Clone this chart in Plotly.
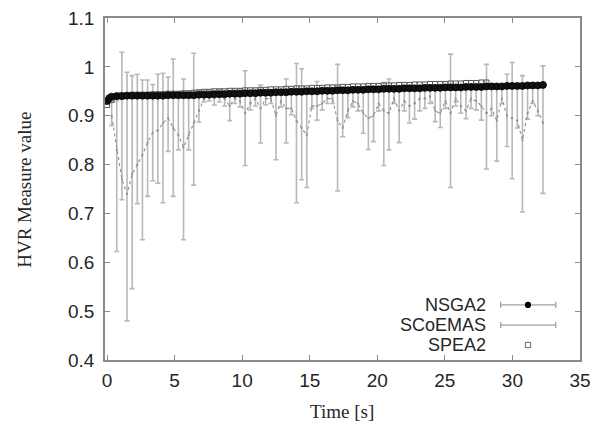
import plotly.graph_objects as go

# ---- data ----
TIME = [0.34, 0.72, 1.10, 1.48, 1.86, 2.24, 2.62, 3.00, 3.38, 3.76, 4.14, 4.52, 4.90, 5.28, 5.66,
        6.04, 6.42, 6.80, 7.18, 7.56, 7.94, 8.32, 8.70, 9.08, 9.46, 9.84, 10.22, 10.60, 10.98,
        11.36, 11.74, 12.12, 12.50, 12.88, 13.26, 13.64, 14.02, 14.40, 14.78, 15.16, 15.54,
        15.92, 16.30, 16.68, 17.06, 17.44, 17.82, 18.20, 18.58, 18.96, 19.34, 19.72, 20.10,
        20.48, 20.86, 21.24, 21.62, 22.00, 22.38, 22.76, 23.14, 23.52, 23.90, 24.28, 24.66,
        25.04, 25.42, 25.80, 26.18, 26.56, 26.94, 27.32, 27.70, 28.08, 28.46, 28.84, 29.22,
        29.60, 29.98, 30.36, 30.74, 31.12, 31.50, 31.88, 32.26]

SCOEMAS_MEAN = [0.900, 0.830, 0.770, 0.740, 0.780, 0.800, 0.820, 0.845, 0.865, 0.870, 0.885, 0.895,
                0.875, 0.860, 0.835, 0.860, 0.885, 0.910, 0.935, 0.940, 0.935, 0.940, 0.935, 0.920,
                0.935, 0.930, 0.905, 0.925, 0.935, 0.915, 0.935, 0.935, 0.900, 0.930, 0.915, 0.915,
                0.890, 0.875, 0.860, 0.920, 0.920, 0.925, 0.935, 0.935, 0.890, 0.875, 0.910, 0.930,
                0.925, 0.905, 0.895, 0.900, 0.925, 0.910, 0.905, 0.935, 0.910, 0.930, 0.920, 0.925,
                0.935, 0.935, 0.940, 0.910, 0.905, 0.930, 0.905, 0.935, 0.920, 0.910, 0.935, 0.930,
                0.920, 0.905, 0.915, 0.890, 0.935, 0.900, 0.895, 0.890, 0.850, 0.905, 0.930, 0.910,
                0.885]
SCOEMAS_HIGH = [0.930, 0.930, 1.030, 0.989, 0.982, 0.985, 0.973, 0.973, 0.964, 0.985, 0.987, 0.979,
                1.016, 0.945, 0.975, 0.945, 1.028, 0.951, 0.951, 0.952, 0.950, 0.953, 0.951, 0.950,
                0.952, 0.955, 0.992, 0.946, 0.952, 0.963, 0.952, 0.953, 0.952, 0.952, 0.975, 0.950,
                1.007, 0.996, 0.952, 0.953, 0.970, 0.952, 0.954, 0.954, 1.005, 0.954, 0.955, 0.955,
                0.955, 0.955, 0.956, 0.956, 0.957, 0.968, 0.975, 0.957, 0.957, 0.958, 0.958, 0.958,
                0.958, 0.959, 0.959, 0.959, 0.960, 0.960, 1.026, 0.960, 0.960, 0.961, 0.961, 0.961,
                0.962, 1.005, 0.962, 0.955, 0.962, 0.985, 1.009, 0.963, 0.982, 0.963, 0.964, 0.964,
                1.002]
SCOEMAS_LOW = [0.880, 0.622, 0.728, 0.480, 0.546, 0.720, 0.646, 0.735, 0.767, 0.762, 0.722, 0.827,
               0.735, 0.830, 0.646, 0.830, 0.758, 0.887, 0.928, 0.930, 0.922, 0.928, 0.920, 0.890,
               0.925, 0.918, 0.798, 0.912, 0.920, 0.844, 0.922, 0.925, 0.810, 0.918, 0.844, 0.902,
               0.722, 0.769, 0.753, 0.915, 0.891, 0.912, 0.925, 0.925, 0.746, 0.857, 0.896, 0.918,
               0.910, 0.864, 0.831, 0.847, 0.910, 0.798, 0.830, 0.925, 0.845, 0.910, 0.885, 0.893,
               0.910, 0.915, 0.925, 0.888, 0.876, 0.915, 0.753, 0.920, 0.905, 0.894, 0.915, 0.912,
               0.891, 0.791, 0.900, 0.807, 0.925, 0.837, 0.771, 0.875, 0.703, 0.893, 0.925, 0.900,
               0.741]

NSGA2_START = [0.0, 0.17]
NSGA2_VALUES = [0.930, 0.936, 0.939,
                0.940, 0.940, 0.941, 0.941, 0.941, 0.941, 0.941, 0.941, 0.941, 0.941, 0.942, 0.942,
                0.942, 0.942, 0.942, 0.942, 0.943,
                0.943, 0.943, 0.944, 0.944, 0.944, 0.945, 0.945, 0.945, 0.946,
                0.946, 0.946, 0.947, 0.947, 0.947, 0.948, 0.948, 0.948, 0.949, 0.949, 0.949, 0.950, 0.950,
                0.950, 0.951, 0.951, 0.951, 0.952, 0.952, 0.952, 0.953, 0.953, 0.953, 0.954, 0.954, 0.954,
                0.955, 0.955, 0.955, 0.955, 0.956, 0.956, 0.956, 0.956, 0.957, 0.957, 0.957, 0.957, 0.958,
                0.958, 0.958, 0.958, 0.959, 0.959, 0.959, 0.959, 0.960, 0.960, 0.960, 0.960, 0.961, 0.961,
                0.961, 0.961, 0.962, 0.962, 0.962, 0.963]
NSGA2_ERR = 0.003

SPEA2_START = [0.0]
SPEA2_VALUES = [0.922, 0.932,
                0.941, 0.942, 0.942, 0.943, 0.943, 0.943, 0.943, 0.944, 0.944, 0.944, 0.945, 0.945,
                0.945, 0.946, 0.946, 0.947, 0.948,
                0.949, 0.949, 0.950, 0.950, 0.950, 0.951, 0.951, 0.951, 0.952,
                0.952, 0.952, 0.953, 0.953, 0.954, 0.954, 0.954, 0.955, 0.955, 0.956, 0.956, 0.956, 0.957,
                0.957, 0.957, 0.958, 0.958, 0.958, 0.959, 0.959, 0.960, 0.960, 0.960, 0.961, 0.961, 0.961,
                0.962, 0.962, 0.962, 0.963, 0.963, 0.963, 0.964, 0.964, 0.964, 0.965, 0.965, 0.965, 0.965,
                0.966, 0.966, 0.966, 0.967, 0.967, 0.967, 0.968, 0.968]

X_TICKS = [0, 5, 10, 15, 20, 25, 30, 35]
Y_TICKS = [0.4, 0.5, 0.6, 0.7, 0.8, 0.9, 1.0, 1.1]
Y_TICK_LABELS = ["0.4", "0.5", "0.6", "0.7", "0.8", "0.9", "1", "1.1"]
LEGEND_NAMES = ["NSGA2", "SCoEMAS", "SPEA2"]
X_TITLE = "Time [s]"
Y_TITLE = "HVR Measure value"

# ---- derived ----
nsga_t = NSGA2_START + TIME
spea_t = SPEA2_START + TIME[:len(SPEA2_VALUES) - len(SPEA2_START)]
sc_up = [h - m for h, m in zip(SCOEMAS_HIGH, SCOEMAS_MEAN)]
sc_dn = [m - l for m, l in zip(SCOEMAS_MEAN, SCOEMAS_LOW)]

GRAY_BAR = "#b8b8b8"
FRAME = "#8a8a8a"
TXT = "#262626"
SERIF = "Liberation Serif, Times New Roman, serif"
SANS = "Liberation Sans, Arial, sans-serif"

fig = go.Figure()

fig.add_trace(go.Scatter(
    x=TIME, y=SCOEMAS_MEAN, mode="lines+markers", name="SCoEMAS",
    line=dict(color="#8e8e8e", width=1.1, dash="dot"),
    marker=dict(size=2, color="#8e8e8e"),
    error_y=dict(type="data", symmetric=False, array=sc_up, arrayminus=sc_dn,
                 color=GRAY_BAR, thickness=1.6, width=2.5),
    showlegend=False))

fig.add_trace(go.Scatter(
    x=spea_t, y=SPEA2_VALUES, mode="markers", name="SPEA2",
    marker=dict(symbol="square-open", size=5, color="#555555", line=dict(width=1)),
    showlegend=False))

fig.add_trace(go.Scatter(
    x=nsga_t, y=NSGA2_VALUES, mode="markers", name="NSGA2",
    marker=dict(symbol="circle", size=7, color="#111111", line=dict(color="#000000", width=0.8)),
    error_y=dict(type="constant", value=NSGA2_ERR, color="#9a9a9a", thickness=1, width=2),
    showlegend=False))

# ---- gnuplot-style key (text right-aligned, sample to the right) ----
key_y = [0.161, 0.102, 0.044]
for name, ky in zip(LEGEND_NAMES, key_y):
    fig.add_annotation(xref="paper", yref="paper", x=0.806, y=ky, text=name,
                       showarrow=False, xanchor="right", yanchor="middle",
                       font=dict(family=SANS, size=18, color=TXT))
x0s, x1s, xc = 0.833, 0.949, 0.8905
capy = 0.009
for ky in key_y[:2]:
    fig.add_shape(type="line", xref="paper", yref="paper", x0=x0s, x1=x1s, y0=ky, y1=ky,
                  line=dict(color="#a0a0a0", width=1.3))
    for xx in (x0s, x1s):
        fig.add_shape(type="line", xref="paper", yref="paper", x0=xx, x1=xx,
                      y0=ky - capy, y1=ky + capy, line=dict(color="#a0a0a0", width=1.3))
fig.add_shape(type="circle", xref="paper", yref="paper", x0=xc - 0.0065, x1=xc + 0.0065,
              y0=key_y[0] - 0.009, y1=key_y[0] + 0.009, fillcolor="#000000", line=dict(width=0))
fig.add_shape(type="rect", xref="paper", yref="paper", x0=xc - 0.0055, x1=xc + 0.0055,
              y0=key_y[2] - 0.0078, y1=key_y[2] + 0.0078, fillcolor="rgba(0,0,0,0)",
              line=dict(color="#666666", width=1))

# axis titles as annotations (fixed position, no margin pushing)
fig.add_annotation(xref="paper", yref="paper", x=0.499, y=-0.152, text=X_TITLE,
                   showarrow=False, xanchor="center", yanchor="middle",
                   font=dict(family=SERIF, size=19, color=TXT))
fig.add_annotation(xref="paper", yref="paper", x=-0.171, y=0.497, text=Y_TITLE,
                   showarrow=False, xanchor="center", yanchor="middle", textangle=-90,
                   font=dict(family=SERIF, size=19, color=TXT))

axis_common = dict(showline=True, linecolor=FRAME, linewidth=1.5, mirror="allticks",
                   ticks="inside", ticklen=5, tickcolor=FRAME, tickwidth=1,
                   showgrid=False, zeroline=False, ticklabeloverflow="allow",
                   automargin=False,
                   tickfont=dict(family=SANS, size=19, color=TXT))

fig.update_layout(
    width=594, height=425,
    margin=dict(l=105, r=14, t=18, b=65),
    paper_bgcolor="white", plot_bgcolor="white",
    xaxis=dict(range=[-0.15, 35.0], tickvals=X_TICKS, ticklabelstandoff=2, **axis_common),
    yaxis=dict(range=[0.4, 1.1], tickvals=Y_TICKS, ticktext=Y_TICK_LABELS,
               ticklabelstandoff=5, **axis_common),
    showlegend=False,
)

# remove the default 8px page margin so the figure sits at the window's top-left corner
fig.write_html("out.html", config={"displayModeBar": False},
               post_script="document.body.style.margin='0';")
